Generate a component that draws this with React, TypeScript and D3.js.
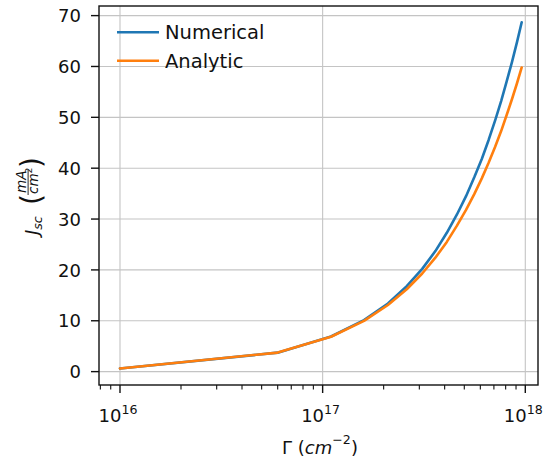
import React from 'react';
import * as d3 from 'd3';

const gamma = [1e16, 6e16, 1.1e17, 1.6e17, 2.1e17, 2.6e17, 3.1e17, 3.6e17, 4.1e17, 4.6e17, 5.1e17, 5.6e17, 6.1e17, 6.6e17, 7.1e17, 7.6e17, 8.1e17, 8.6e17, 9.1e17, 9.6e17];
const numerical = [0.62, 3.73, 6.9, 10.12, 13.4, 16.8, 20.2, 23.7, 27.3, 30.9, 34.5, 38.2, 41.8, 45.6, 49.4, 53.2, 57.1, 60.9, 64.8, 68.7];
const analytic = [0.62, 3.74, 6.85, 9.97, 13.1, 16.2, 19.3, 22.4, 25.5, 28.7, 31.8, 34.9, 38.0, 41.1, 44.2, 47.3, 50.5, 53.6, 56.7, 59.8];
const seriesNames = ['Numerical', 'Analytic'];
const seriesColors = ['#1f77b4', '#ff7f0e'];
const yTicks = [0, 10, 20, 30, 40, 50, 60, 70];
const xMajorExps = [16, 17, 18];

const FONT = 'DejaVu Sans';
const INK = '#111';

export default function App() {
  const W = 548, H = 466;
  const left = 99, right = 538, top = 6, bottom = 385;
  const x = d3.scaleLog().domain([Math.pow(10, 15.8964), Math.pow(10, 18.0627)]).range([left, right]);
  const y = d3.scaleLinear().domain([-2.63, 71.89]).range([bottom, top]);
  const [d0, d1] = x.domain();
  const minor: number[] = [];
  for (let e = 15; e <= 18; e++) {
    for (let k = 2; k <= 9; k++) {
      const v = k * Math.pow(10, e);
      if (v >= d0 && v <= d1) minor.push(v);
    }
  }
  const line = d3.line<[number, number]>().x(d => x(d[0])).y(d => y(d[1]));
  const series = [numerical, analytic];

  return (
    <svg width={W} height={H} style={{ position: 'absolute', left: 0, top: 0, background: '#fff' }} fontFamily={FONT}>
      <rect x={0} y={0} width={W} height={H} fill="#fff" />
      {xMajorExps.map(e => (
        <line key={'gx' + e} x1={x(Math.pow(10, e))} x2={x(Math.pow(10, e))} y1={top} y2={bottom} stroke="#c4c4c4" strokeWidth={1.1} />
      ))}
      {yTicks.map(t => (
        <line key={'gy' + t} x1={left} x2={right} y1={y(t)} y2={y(t)} stroke="#c4c4c4" strokeWidth={1.1} />
      ))}
      {series.map((s, i) => (
        <path key={'s' + i} d={line(gamma.map((g, j) => [g, s[j]] as [number, number])) || ''} fill="none" stroke={seriesColors[i]} strokeWidth={2.6} strokeLinejoin="round" strokeLinecap="round" />
      ))}
      <rect x={left} y={top} width={right - left} height={bottom - top} fill="none" stroke={INK} strokeWidth={1.4} />
      {yTicks.map(t => (
        <g key={'yt' + t}>
          <line x1={left - 8} x2={left} y1={y(t)} y2={y(t)} stroke={INK} strokeWidth={1.4} />
          <text x={81} y={y(t) + 6.6} textAnchor="end" fontSize={18} fill={INK}>{t}</text>
        </g>
      ))}
      {minor.map((v, i) => (
        <line key={'mn' + i} x1={x(v)} x2={x(v)} y1={bottom} y2={bottom + 4.5} stroke={INK} strokeWidth={1.1} />
      ))}
      {xMajorExps.map(e => (
        <g key={'xt' + e}>
          <line x1={x(Math.pow(10, e))} x2={x(Math.pow(10, e))} y1={bottom} y2={bottom + 8} stroke={INK} strokeWidth={1.4} />
          <text x={x(Math.pow(10, e)) - 2} y={422} textAnchor="middle" fontSize={18} fill={INK}>
            <tspan>10</tspan>
            <tspan fontSize={12.6} dy={-8.5}>{e}</tspan>
          </text>
        </g>
      ))}
      <text x={320} y={454} textAnchor="middle" fontSize={18} fill={INK}>
        <tspan>Γ (</tspan>
        <tspan fontStyle="italic">cm</tspan>
        <tspan fontSize={12.6} dy={-10}>−2</tspan>
        <tspan dy={10}>)</tspan>
      </text>
      <g transform="translate(38,235) rotate(-90)" fill={INK}>
        <text x={0} y={0} fontSize={18} fontStyle="italic">
          <tspan>J</tspan>
          <tspan fontSize={12.6} dy={4}>sc</tspan>
        </text>
        <text x={30} y={3} fontSize={28}>(</text>
        <text x={42} y={-12.5} fontSize={13.5} fontStyle="italic">mA</text>
        <line x1={40} x2={65} y1={-9.9} y2={-9.9} stroke={INK} strokeWidth={0.9} />
        <text x={41} y={-0.5} fontSize={13.5}>
          <tspan fontStyle="italic">cm</tspan>
          <tspan fontSize={9.2} dy={-5.5}>2</tspan>
        </text>
        <text x={67} y={3} fontSize={28}>)</text>
      </g>
      {seriesNames.map((n, i) => (
        <g key={'lg' + i}>
          <line x1={117} x2={159} y1={32.3 + i * 28.4} y2={32.3 + i * 28.4} stroke={seriesColors[i]} strokeWidth={2.6} />
          <text x={165} y={39.3 + i * 28.4} fontSize={19.5} fill={INK}>{n}</text>
        </g>
      ))}
    </svg>
  );
}
